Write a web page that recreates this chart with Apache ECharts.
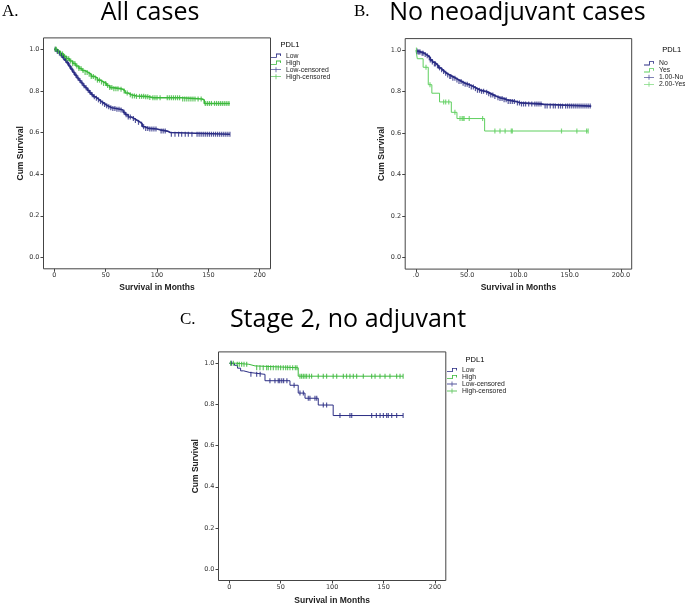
<!DOCTYPE html>
<html>
<head>
<meta charset="utf-8">
<script src="https://cdn.jsdelivr.net/npm/echarts@6/dist/echarts.min.js"></script>
<style>html,body{margin:0;padding:0;background:#fff;}#c{width:685px;height:606px;}</style>
</head>
<body>
<div id="c"></div>
<script>
// ---------- DATA ----------
// Panel A: All cases  [months, cumulative survival]
const aLow = [[0,1.0],[2,0.99],[4,0.982],[6,0.972],[8,0.96],[10,0.948],[12,0.935],[14,0.92],[16,0.905],[18,0.89],[20,0.876],[22,0.862],[24,0.85],[26,0.838],[28,0.825],[30,0.815],[32,0.803],[34,0.792],[36,0.782],[38,0.772],[40,0.765],[42,0.757],[44,0.749],[46,0.742],[48,0.735],[50,0.729],[52,0.724],[54,0.719],[56,0.716],[60,0.712],[64,0.708],[67,0.697],[69,0.686],[72,0.675],[75,0.667],[78,0.658],[81,0.649],[84,0.64],[86,0.628],[88,0.62],[92,0.617],[100,0.613],[103,0.607],[110,0.6],[113,0.592],[171,0.592]];
const aHigh = [[0,1.0],[3,0.99],[6,0.978],[9,0.966],[12,0.955],[15,0.944],[18,0.932],[21,0.92],[24,0.908],[27,0.898],[30,0.889],[33,0.88],[36,0.87],[39,0.862],[42,0.852],[45,0.843],[48,0.836],[51,0.826],[54,0.816],[57,0.811],[64,0.808],[67,0.8],[69,0.79],[72,0.782],[75,0.776],[80,0.774],[88,0.772],[92,0.768],[96,0.767],[124,0.761],[144,0.757],[146,0.74],[171,0.74]];
const aLowCens = [1,3,5,7,9,11,13,15,17,19,21,23,25,27,29,31,33,35,37,39,41,43,45,47,49,51,53,55,57,59,61,63,65,68,70,72,74,77,79,82,85,87,89,91,93,95,97,99,104,106,108,114,117.5,121,124,127.5,130.5,134,139,141,143,145,147,149,151,153,155,157,159,161,163,165,167,169,171];
const aHighCens = [1,2,4,6,8,10,12,14,16,18,20,22,24,26,28,30,32,34,36,38,40,42,44,46,48,50,52,54,56,58,60,62,65,68,71,74,76,78,80,83,85,87,89,91,93,96,98,100,103,110,112,114,116,118,120,122,125,127,129,131,133,135,137,140,143,147,149,151,153,156,158,160,162,164,166,168,170];

// Panel B: No neoadjuvant cases
const bNo = [[0,0.995],[2,0.99],[5,0.985],[8,0.978],[10,0.972],[12,0.963],[14,0.952],[16,0.942],[18,0.933],[20,0.924],[22,0.914],[24,0.905],[26,0.896],[28,0.888],[30,0.88],[33,0.872],[36,0.864],[39,0.856],[42,0.848],[45,0.84],[48,0.835],[51,0.829],[54,0.822],[57,0.814],[60,0.806],[63,0.801],[68,0.797],[70,0.79],[73,0.783],[76,0.776],[79,0.77],[82,0.766],[86,0.76],[89,0.752],[98,0.745],[102,0.74],[123,0.738],[125,0.73],[171,0.73]];
const bYes = [[0,1.0],[1.3,0.958],[7,0.917],[12,0.833],[15.5,0.792],[23,0.75],[34.5,0.70],[40,0.67],[67,0.61],[168,0.61]];
const bNoCens = [1,2,3,4,6,7,9,11,13,14,16,18,19,21,23,25,27,29,31,33,34,36,38,40,42,44,46,48,50,52,54,56,58,60,62,64,66,69,71,73,75,77,80,82,84,86,88,90,92,94,96,99,101,103,105,107,110,113,116,118,120,122,126,128,131,134,136,139,141,143,146,148,150,152,154,156,158,160,162,164,166,168,170];
const bYesCens = [0.5,9.8,13.7,27,29,32,38,43,45,46,47,52,65,77,82,87,93,94,142,157,166.5,168];

// Panel C: Stage 2, no adjuvant
const cLow = [[0,1.0],[5,0.99],[8,0.976],[11,0.963],[14,0.955],[20,0.946],[34.7,0.915],[59,0.893],[67,0.855],[73.6,0.83],[86.5,0.797],[101,0.746],[169,0.746]];
const cHigh = [[0,1.0],[6,0.995],[19,0.987],[25,0.978],[67,0.937],[169,0.937]];
const cLowCens = [2,21,26.6,30,39.5,44.4,47.6,49,51,52.8,56,63,68.7,72,76.8,78.4,83.3,85,91.4,94.6,107.6,117.3,119,138.4,143,146.6,149.8,153,154.6,157.9,162.7,169];
const cHighCens = [1.3,3.9,7.8,9.7,12,14.3,16.9,26.6,29.8,33,36.3,37.9,40.2,42.8,45.4,47.6,49.9,52.5,54.8,56.7,59,61.6,64.2,65.8,68.7,70.3,72,73.6,75.2,77.8,80,86.5,91.4,94.6,101,104.4,110.9,114,117.3,120.6,123.8,130.3,138.4,141.7,146.5,151.4,156.2,162.7,166,169];

const xTicks = [0,50,100,150,200];
const yTicks = [0,0.2,0.4,0.6,0.8,1.0];

// ---------- BUILD ----------
const NAVY = '#2b2d84', GREEN = '#3cb93c', GREEN_B = '#5fcf5f';
const SANS = '"Liberation Sans", Arial, sans-serif';
const TICKF = '"DejaVu Sans", sans-serif';

function survAt(curve, t){ let s = curve[0][1]; for (const p of curve){ if (p[0] <= t) s = p[1]; } return s; }
function cens(curve, times){ return times.map(t => [t, survAt(curve, t)]); }

const grids = [
  {left:43.5, top:37.9, width:227, height:230.9},
  {left:405.2, top:38.6, width:226.5, height:230.5},
  {left:218.5, top:351.9, width:227.3, height:230.5}
].map(g => Object.assign(g, {show:true, borderColor:'#444', borderWidth:1, backgroundColor:'#fff', containLabel:false}));

const xFmt = [v => String(v), v => v === 0 ? '.0' : v.toFixed(1), v => String(v)];
const xNameGap = [14, 14.5, 15.5];
const yNameGap = [18, 19, 17];
const xAxes = [0,1,2].map(i => ({
  gridIndex:i, type:'value', min:-10.5, max:210.5, position:'bottom',
  axisLine:{show:false, onZero:false}, splitLine:{show:false},
  axisTick:{show:true, length:3, customValues:xTicks, lineStyle:{color:'#444'}},
  axisLabel:{customValues:xTicks, formatter:xFmt[i], fontSize:6.5, fontFamily:TICKF, color:'#333', margin:3},
  name:'Survival in Months', nameLocation:'middle', nameGap:xNameGap[i],
  nameTextStyle:{fontWeight:'bold', fontSize:8.5, fontFamily:SANS, color:'#222'}
}));
const yAxes = [0,1,2].map(i => ({
  gridIndex:i, type:'value', min:-0.055, max:1.055, position:'left',
  axisLine:{show:false, onZero:false}, splitLine:{show:false},
  axisTick:{show:true, length:3, customValues:yTicks, lineStyle:{color:'#444'}},
  axisLabel:{customValues:yTicks, formatter:v => v.toFixed(1), fontSize:6.5, fontFamily:TICKF, color:'#333', margin:4},
  name:'Cum Survival', nameLocation:'middle', nameGap:yNameGap[i],
  nameTextStyle:{fontWeight:'bold', fontSize:8.5, fontFamily:SANS, color:'#222'}
}));

const TICK = 'path://M0,0 L1,0 L1,10 L0,10 Z';
function kmLine(name, data, idx, color, w){
  return {name, type:'line', step:'end', data, xAxisIndex:idx, yAxisIndex:idx, showSymbol:false, symbol:'none',
    color, lineStyle:{color, width:w}, itemStyle:{color}, silent:true, z:2};
}
function censSeries(name, data, idx, color){
  return {name, type:'scatter', data, xAxisIndex:idx, yAxisIndex:idx, symbol:TICK, symbolSize:[1.2,5],
    color, itemStyle:{color}, silent:true, z:3};
}

const series = [
  kmLine('Low', aLow, 0, NAVY, 1.6), kmLine('High', aHigh, 0, GREEN, 1.6),
  censSeries('Low-censored', cens(aLow, aLowCens), 0, NAVY), censSeries('High-censored', cens(aHigh, aHighCens), 0, GREEN),
  kmLine('No', bNo, 1, NAVY, 1.8), kmLine('Yes', bYes, 1, GREEN_B, 1),
  censSeries('1.00-No', cens(bNo, bNoCens), 1, NAVY), censSeries('2.00-Yes', cens(bYes, bYesCens), 1, GREEN_B),
  kmLine('Low', cLow, 2, NAVY, 1), kmLine('High', cHigh, 2, GREEN, 1),
  censSeries('Low-censored', cens(cLow, cLowCens), 2, NAVY), censSeries('High-censored', cens(cHigh, cHighCens), 2, GREEN)
];

const STEP_ICON = 'path://M0,4 L6,4 L6,0 L12,0 L12,3 L11,3 L11,1 L7,1 L7,5 L0,5 Z';
const CENS_ICON = 'path://M0,2.5 L5.5,2.5 L5.5,0 L6.5,0 L6.5,2.5 L12,2.5 L12,3.5 L6.5,3.5 L6.5,6 L5.5,6 L5.5,3.5 L0,3.5 Z';
function legend(names, left, top){
  return {orient:'vertical', left, top, itemWidth:10, itemHeight:6, itemGap:0, padding:0, selectedMode:false,
    itemStyle:{borderWidth:0},
    textStyle:{fontSize:6.8, lineHeight:7, fontFamily:SANS, color:'#222'},
    data:names.map((n,i) => ({name:n, icon: i < 2 ? STEP_ICON : CENS_ICON}))};
}

function txt(x, y, text, size, family, align){
  return {type:'text', x, y, silent:true, style:{text, fontSize:size, fontFamily:family, fill:'#000', align:align||'center', verticalAlign:'middle'}};
}

const chart = echarts.init(document.getElementById('c'), null, {renderer:'canvas'});
chart.setOption({
  animation:false,
  backgroundColor:'#fff',
  grid:grids, xAxis:xAxes, yAxis:yAxes, series,
  legend:[
    legend(['Low','High','Low-censored','High-censored'], 271, 52.2),
    legend(['No','Yes','1.00-No','2.00-Yes'], 644, 59.8),
    legend(['Low','High','Low-censored','High-censored'], 447, 366.5)
  ],
  graphic:[
    txt(2, 11.5, 'A.', 17, '"Liberation Serif", "Times New Roman", serif', 'left'),
    txt(150, 13, 'All cases', 25, '"Open Sans", sans-serif'),
    txt(354, 11.5, 'B.', 17, '"Liberation Serif", "Times New Roman", serif', 'left'),
    txt(517.5, 12.5, 'No neoadjuvant cases', 25, '"Open Sans", sans-serif'),
    txt(180, 319.5, 'C.', 17, '"Liberation Serif", "Times New Roman", serif', 'left'),
    txt(348, 320, 'Stage 2, no adjuvant', 25, '"Open Sans", sans-serif'),
    txt(290, 45, 'PDL1', 7.5, SANS),
    txt(671.7, 50, 'PDL1', 7.5, SANS),
    txt(475, 360, 'PDL1', 7.5, SANS)
  ]
});
</script>
</body>
</html>
